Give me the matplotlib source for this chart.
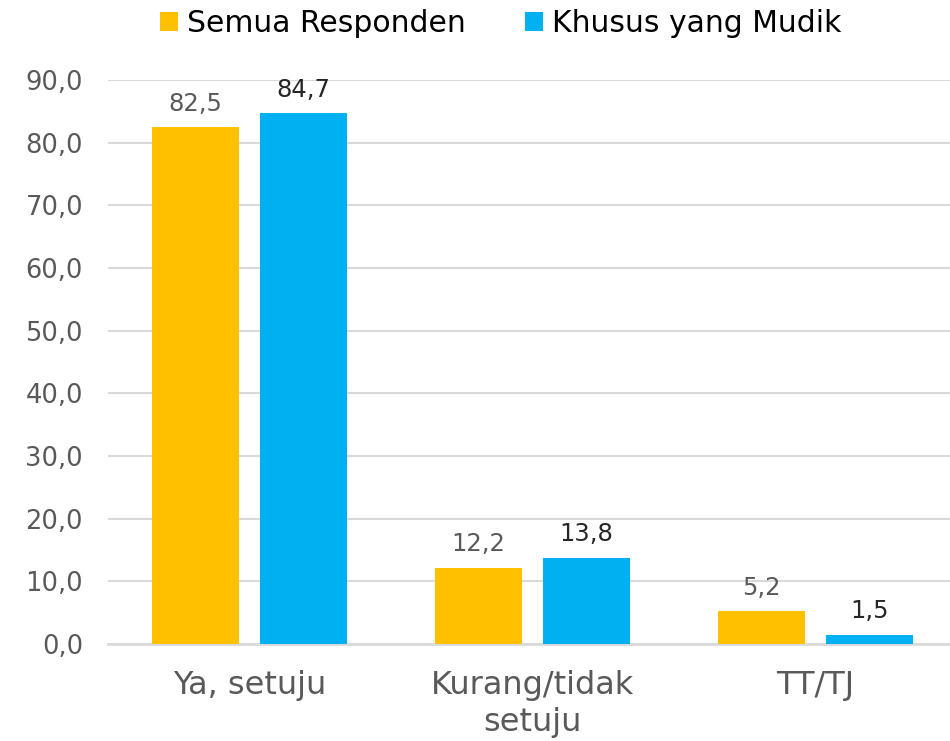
import matplotlib.pyplot as plt
import numpy as np

# data
categories = ["Ya, setuju", "Kurang/tidak\nsetuju", "TT/TJ"]
semua = [82.5, 12.2, 5.2]
mudik = [84.7, 13.8, 1.5]
series_names = ["Semua Responden", "Khusus yang Mudik"]

plt.rcParams['font.family'] = ['DejaVu Sans']

fig = plt.figure(figsize=(9.5, 7.41), dpi=100)
ax = fig.add_axes([108/950, 97/741, 849/950, 564/741])

x = np.arange(len(categories))
w = 0.307
off = 0.19
b1 = ax.bar(x - off, semua, w, color='#FFC000', label=series_names[0], zorder=3)
b2 = ax.bar(x + off, mudik, w, color='#00B0F0', label=series_names[1], zorder=3)

for rect, v in zip(b1, semua):
    ax.annotate(f"{v:.1f}".replace('.', ','), (rect.get_x() + rect.get_width()/2, v),
                xytext=(0, 8), textcoords='offset points', ha='center', va='bottom',
                fontsize=17.5, color='#595959')
for rect, v in zip(b2, mudik):
    ax.annotate(f"{v:.1f}".replace('.', ','), (rect.get_x() + rect.get_width()/2, v),
                xytext=(0, 8), textcoords='offset points', ha='center', va='bottom',
                fontsize=17.5, color='#262626')

ax.set_xlim(-0.5, 2.5)
ax.set_ylim(0, 90)
ax.set_yticks(np.arange(0, 91, 10))
ax.set_yticklabels([f"{t:.1f}".replace('.', ',') for t in np.arange(0, 91, 10)])
ax.set_xticks(x)
ax.set_xticklabels(categories, linespacing=1.22)
ax.tick_params(axis='y', length=0, pad=18, labelsize=18.5, labelcolor='#595959')
ax.tick_params(axis='x', length=0, pad=19, labelsize=23, labelcolor='#595959')

ax.grid(axis='y', color='#D9D9D9', linewidth=1.5, zorder=0)
for s in ['top', 'right', 'left']:
    ax.spines[s].set_visible(False)
ax.spines['bottom'].set_color('#D9D9D9')
ax.spines['bottom'].set_linewidth(2)

fig.legend(loc='center', bbox_to_anchor=(0.527, 0.968), ncol=2, frameon=False,
           fontsize=21.5, handlelength=0.6, handleheight=0.6, handletextpad=0.3,
           columnspacing=2.0, labelcolor='black')

fig.savefig('out.png', dpi=100)
